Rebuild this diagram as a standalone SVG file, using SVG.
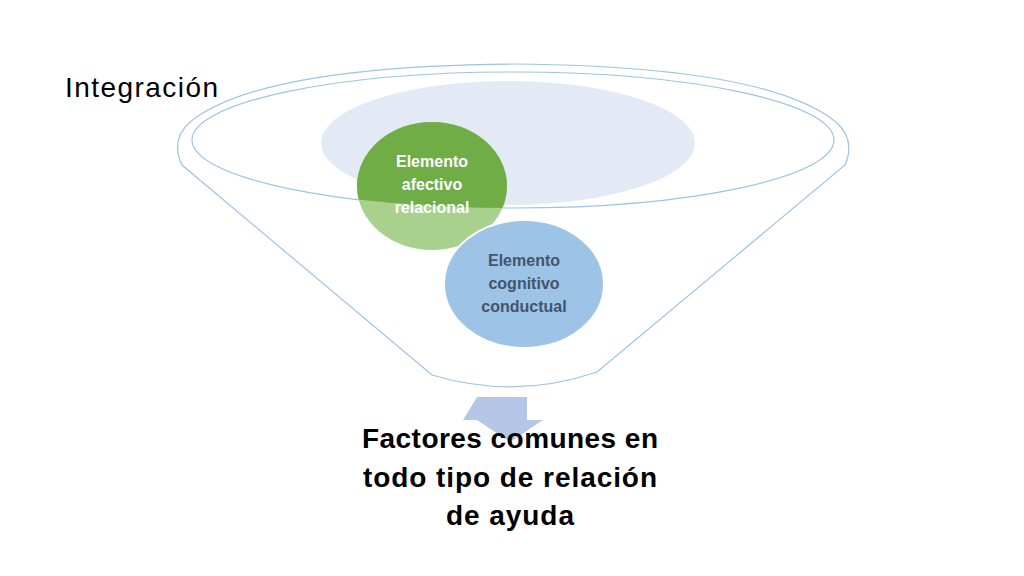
<svg xmlns="http://www.w3.org/2000/svg" width="1024" height="576" viewBox="0 0 1024 576">
<style>
.rim{fill:none;stroke:#9dc3e6;stroke-width:1.2}
.w{font-family:"Liberation Sans",Arial,sans-serif;font-weight:bold;font-size:16px;text-anchor:middle}
.big{font-family:"Liberation Sans",Arial,sans-serif;font-weight:bold;font-size:28px;text-anchor:middle;fill:#000}
</style>
<defs>
<clipPath id="inner"><ellipse cx="513" cy="140" rx="321" ry="68"/></clipPath>
</defs>
<rect width="1024" height="576" fill="#fff"/>
<g id="funnel">
<path class="rim" d="M182,165 Q170,140 190,122 Q260,66 513,64 Q766,66 836,122 Q856,140 845,165 L597,372 Q515,400 432,375 Z" fill="#fff"/>
<ellipse class="rim" cx="513" cy="140" rx="321" ry="68"/>
<ellipse cx="508" cy="143" rx="187" ry="62" fill="#e3eaf5"/>
</g>
<g id="afectivo">
<ellipse cx="432" cy="186" rx="75" ry="64" fill="#a9d18e"/>
<ellipse cx="432" cy="186" rx="75" ry="64" fill="#70ad47" clip-path="url(#inner)"/>
<text class="w" fill="#fff" x="432" y="167">Elemento</text>
<text class="w" fill="#fff" x="432" y="190">afectivo</text>
<text class="w" fill="#fff" x="432" y="213">relacional</text>
</g>
<g id="cognitivo">
<ellipse cx="524" cy="284" rx="80" ry="64" fill="#9dc3e6" stroke="#fff" stroke-width="2"/>
<text class="w" fill="#44546a" x="524" y="266">Elemento</text>
<text class="w" fill="#44546a" x="524" y="289">cognitivo</text>
<text class="w" fill="#44546a" x="524" y="312">conductual</text>
</g>
<g id="connectors">
<path d="M477,397 H527 V420 H543 L510,442 L477,420 H463 Z" fill="#b4c7e7"/>
</g>
<g id="labels">
<text x="65" y="97" font-family="Liberation Sans,Arial,sans-serif" font-size="28" fill="#000" textLength="153">Integración</text>
<text class="big" x="510" y="448" textLength="296">Factores comunes en</text>
<text class="big" x="510" y="487" textLength="294">todo tipo de relación</text>
<text class="big" x="510" y="525" textLength="128">de ayuda</text>
</g>
</svg>
